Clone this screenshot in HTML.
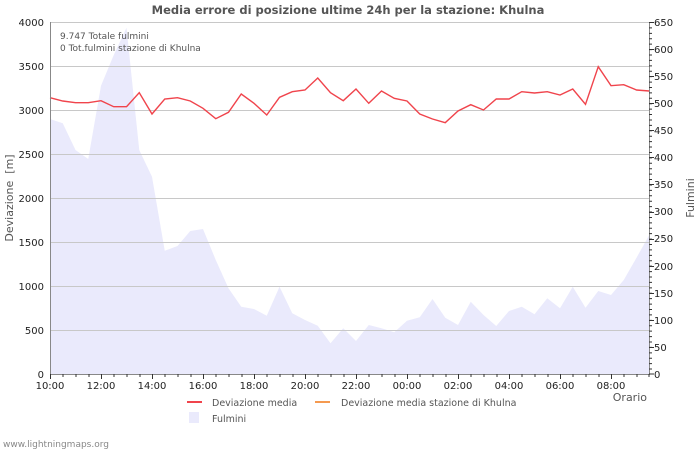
<!DOCTYPE html>
<html><head><meta charset="utf-8"><style>
body{margin:0;background:#fff}
text{font-family:"DejaVu Sans","Liberation Sans",sans-serif}
</style></head><body>
<svg width="700" height="450" xmlns="http://www.w3.org/2000/svg">
<rect width="700" height="450" fill="#fff"/>
<text x="348" y="14" text-anchor="middle" font-size="11.5" font-weight="bold" fill="#555">Media errore di posizione ultime 24h per la stazione: Khulna</text>
<polygon fill="#eaeafc" points="50,374 50,119 62.75,123.3 75.5,150 88.25,159 101,85.7 113.75,55 126.5,27.7 139.25,150 152,176.7 164.75,250.7 177.5,246 190.25,231 203,229 215.75,260 228.5,288.3 241.25,306.7 254,309 266.75,315.7 279.5,286.7 292.25,313.3 305,320 317.75,325.7 330.5,343.3 343.25,328.3 356,341 368.75,325 381.5,328.3 394.25,332.3 407,320.7 419.75,317.3 432.5,299 445.25,317.7 458,325 470.75,301.7 483.5,315 496.25,326 509,311 521.75,306.7 534.5,314.3 547.25,298.3 560,308.3 572.75,286.7 585.5,307.7 598.25,291 611,295 623.75,280 636.5,257.7 649.25,235 649.25,374"/>
<g stroke="#c8c8c8" stroke-width="1">
<line x1="50" y1="22.5" x2="649" y2="22.5"/><line x1="50" y1="66.5" x2="649" y2="66.5"/><line x1="50" y1="110.5" x2="649" y2="110.5"/><line x1="50" y1="154.5" x2="649" y2="154.5"/><line x1="50" y1="198.5" x2="649" y2="198.5"/><line x1="50" y1="242.5" x2="649" y2="242.5"/><line x1="50" y1="286.5" x2="649" y2="286.5"/><line x1="50" y1="330.5" x2="649" y2="330.5"/>
</g>
<polyline fill="none" stroke="#f0444c" stroke-width="1.4" points="50,97.7 62.75,101 75.5,102.7 88.25,102.7 101,100.7 113.75,106.7 126.5,106.7 139.25,92.7 152,114 164.75,99 177.5,97.7 190.25,101 203,108.3 215.75,118.7 228.5,112.3 241.25,94 254,103.3 266.75,115 279.5,97.3 292.25,91.7 305,90 317.75,78 330.5,92.7 343.25,100.7 356,89 368.75,103.3 381.5,91 394.25,98.3 407,101 419.75,114 432.5,119 445.25,122.7 458,111 470.75,104.7 483.5,110 496.25,99 509,99 521.75,91.7 534.5,93 547.25,91.7 560,95 572.75,89 585.5,104.3 598.25,66.7 611,85.7 623.75,84.7 636.5,90 649.25,91"/>
<g stroke="#888" stroke-width="1">
<line x1="50.5" y1="22" x2="50.5" y2="374"/>
<line x1="649.5" y1="22" x2="649.5" y2="374"/>
<line x1="50" y1="374.5" x2="650" y2="374.5"/>
</g>
<g font-size="10" fill="#222" text-anchor="end">
<text x="44" y="26">4000</text><text x="44" y="70">3500</text><text x="44" y="114">3000</text><text x="44" y="158">2500</text><text x="44" y="202">2000</text><text x="44" y="246">1500</text><text x="44" y="290">1000</text><text x="44" y="334">500</text><text x="44" y="378">0</text>
</g>
<g font-size="10" fill="#222">
<text x="654" y="26">650</text><text x="654" y="53">600</text><text x="654" y="80">550</text><text x="654" y="107">500</text><text x="654" y="134">450</text><text x="654" y="161">400</text><text x="654" y="188">350</text><text x="654" y="215">300</text><text x="654" y="242">250</text><text x="654" y="270">200</text><text x="654" y="297">150</text><text x="654" y="324">100</text><text x="654" y="351">50</text><text x="654" y="378">0</text>
</g>
<path stroke="#333" stroke-width="1" fill="none" d="M649,22.5h5M649,49.5h5M649,76.5h5M649,103.5h5M649,130.5h5M649,157.5h5M649,184.5h5M649,212.5h5M649,239.5h5M649,266.5h5M649,293.5h5M649,320.5h5M649,347.5h5M649,374h5"/>
<path stroke="#333" stroke-width="3" fill="none" stroke-dasharray="1,4.415" d="M650.5,22v352"/>
<path stroke="#333" stroke-width="1" fill="none" d="M50.5,374v5M101.5,374v5M152.5,374v5M203.5,374v5M254.5,374v5M305.5,374v5M356.5,374v5M407.5,374v5M458.5,374v5M509.5,374v5M560.5,374v5M611.5,374v5"/>
<path stroke="#333" stroke-width="1" fill="none" d="M63,374v3M76,374v3M89,374v3M114,374v3M127,374v3M140,374v3M165,374v3M178,374v3M191,374v3M216,374v3M229,374v3M242,374v3M267,374v3M280,374v3M293,374v3M318,374v3M331,374v3M344,374v3M369,374v3M382,374v3M395,374v3M420,374v3M433,374v3M446,374v3M471,374v3M484,374v3M497,374v3M522,374v3M535,374v3M548,374v3M573,374v3M586,374v3M599,374v3M624,374v3M637,374v3M649,374v3"/>
<g font-size="10" fill="#222" text-anchor="middle">
<text x="50" y="389">10:00</text><text x="101" y="389">12:00</text><text x="152" y="389">14:00</text><text x="203" y="389">16:00</text><text x="254" y="389">18:00</text><text x="305" y="389">20:00</text><text x="356" y="389">22:00</text><text x="407" y="389">00:00</text><text x="458" y="389">02:00</text><text x="509" y="389">04:00</text><text x="560" y="389">06:00</text><text x="611" y="389">08:00</text>
</g>
<text x="647" y="401" font-size="11" fill="#555" text-anchor="end">Orario</text>
<text transform="translate(13,198) rotate(-90)" font-size="11" fill="#555" text-anchor="middle" xml:space="preserve">Deviazione  [m]</text>
<text transform="translate(694,198) rotate(-90)" font-size="11" fill="#555" text-anchor="middle">Fulmini</text>
<text x="60" y="39" font-size="9" fill="#555">9.747 Totale fulmini</text>
<text x="60" y="51" font-size="9" fill="#555">0 Tot.fulmini stazione di Khulna</text>
<rect x="187" y="401" width="15" height="2" fill="#f0444c"/>
<text x="212" y="406" font-size="9.5" fill="#555">Deviazione media</text>
<rect x="315" y="401" width="15" height="2" fill="#f59a50"/>
<text x="341" y="406" font-size="9.5" fill="#555">Deviazione media stazione di Khulna</text>
<rect x="189" y="412" width="10" height="11" fill="#eaeafc"/>
<text x="212" y="422" font-size="9.5" fill="#555">Fulmini</text>
<text x="3" y="447" font-size="9" fill="#888">www.lightningmaps.org</text>
</svg>
</body></html>
